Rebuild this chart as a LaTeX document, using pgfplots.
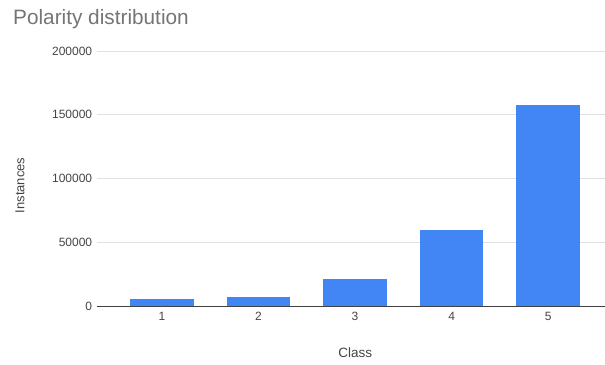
\documentclass[border=0pt]{standalone}
\usepackage{pgfplots}
\pgfplotsset{compat=1.18}
\usepackage{fontspec}
\setmainfont{Liberation Sans}
\definecolor{barblue}{HTML}{4285F4}
\definecolor{gridgray}{HTML}{E0E0E0}
\definecolor{labelgray}{HTML}{444444}
\definecolor{titlegray}{HTML}{757575}
\begin{document}
\begin{tikzpicture}[x=1pt,y=1pt]
\begin{axis}[
  at={(0,0)}, anchor=south west,
  scale only axis,
  width=508.3pt, height=255.3pt,
  xmin=0.322, xmax=5.585,
  ymin=0, ymax=200000,
  scaled y ticks=false,
  ytick={0,50000,100000,150000,200000},
  yticklabels={0,50000,100000,150000,200000},
  xtick={1,2,3,4,5},
  xticklabels={1,2,3,4,5},
  major tick length=0pt,
  axis line style={draw=none},
  ymajorgrids,
  major grid style={gridgray, line width=0.9pt},
  tick label style={font=\fontsize{12}{14}\selectfont, text=labelgray},
  yticklabel style={xshift=-1pt},
  xticklabel style={yshift=-3pt},
  clip=false,
]
\addplot[ybar, bar width=0.645, fill=barblue, draw=barblue, line width=0pt]
  coordinates {(1,5300) (2,7000) (3,21000) (4,59500) (5,157000)};
\draw[black!75, line width=0.9pt] (axis cs:0.322,0) -- (axis cs:5.585,0);
\end{axis}
% title and axis titles
\node[font=\fontsize{20.8}{24}\selectfont, text=titlegray, anchor=base west, inner sep=0pt]
  at (-83.7,281.3) {Polarity distribution};
\node[font=\fontsize{13}{15}\selectfont, text=labelgray, rotate=90, inner sep=0pt]
  at (-76.7,120.8) {Instances};
\node[font=\fontsize{13.5}{15}\selectfont, text=labelgray, inner sep=0pt]
  at (258.8,-46.7) {Class};
\useasboundingbox (-96.7,-58.7) rectangle (508.3,306.3);
\end{tikzpicture}
\end{document}
